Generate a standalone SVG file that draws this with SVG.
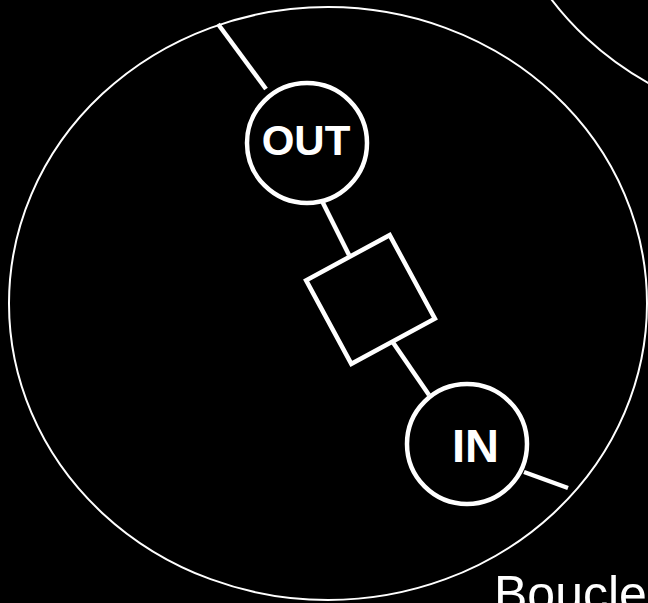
<svg xmlns="http://www.w3.org/2000/svg" width="648" height="603" viewBox="0 0 648 603">
<style>
.loop{fill:none;stroke:#fff;stroke-width:2}
.node{fill:#000;stroke:#fff;stroke-width:4.5}
.edge{stroke:#fff;stroke-width:4.5;fill:none}
.lbl{fill:#fff;font-family:"Liberation Sans",Arial,sans-serif;font-weight:bold;text-anchor:middle}
.title{fill:#fff;font-family:"Liberation Sans",Arial,sans-serif;font-size:50px}
</style>
<rect width="648" height="603" fill="#000"/>
<g id="loops">
<ellipse class="loop" cx="328" cy="303.5" rx="319" ry="296.5"/>
<ellipse class="loop" cx="812" cy="-172" rx="319" ry="297"/>
</g>
<g id="connectors">
<line class="edge" x1="218" y1="24" x2="266" y2="89"/>
<line class="edge" x1="322" y1="201" x2="349" y2="255"/>
<line class="edge" x1="392" y1="341" x2="429" y2="395"/>
<line class="edge" x1="524" y1="472" x2="568" y2="488"/>
</g>
<g id="out">
<circle class="node" cx="307" cy="143" r="60"/>
<text class="lbl" x="306" y="155" font-size="42">OUT</text>
</g>
<g id="block">
<rect class="node" x="-47.5" y="-47.5" width="95" height="95" transform="translate(370.5 299.5) rotate(-28.4)"/>
</g>
<g id="in">
<circle class="node" cx="467" cy="444" r="60"/>
<text class="lbl" x="475.5" y="462" font-size="47">IN</text>
</g>
<g id="label">
<text class="title" x="494" y="611">Boucle</text>
</g>
</svg>
